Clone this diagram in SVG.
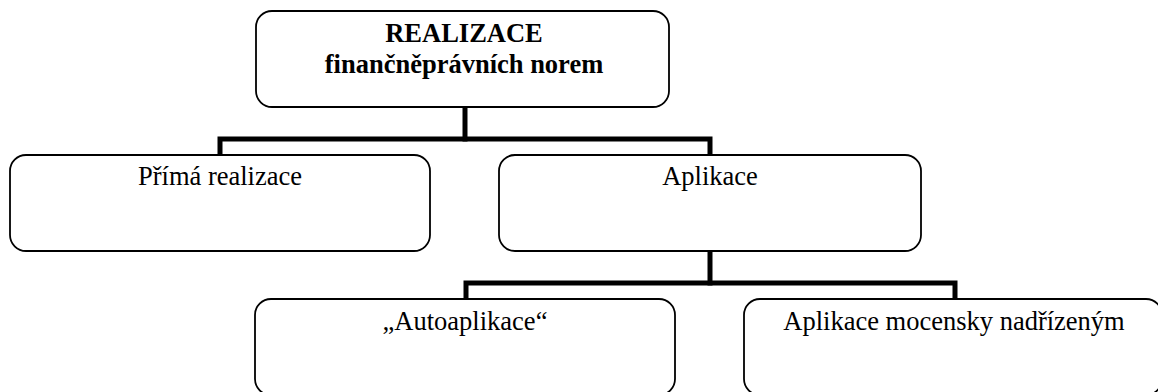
<svg xmlns="http://www.w3.org/2000/svg" width="1158" height="392" viewBox="0 0 1158 392">
  <style>
    .box { fill: #ffffff; stroke: #000000; stroke-width: 1.8; }
    .wire { fill: none; stroke: #000000; stroke-width: 5; stroke-linejoin: miter; stroke-linecap: square; }
    .lbl { font-family: "Liberation Serif", "Times New Roman", serif; font-size: 26.5px; fill: #000000; text-anchor: middle; }
    .bold { font-weight: bold; }
  </style>
  <rect width="1158" height="392" fill="#ffffff"/>

  <!-- connectors -->
  <g id="connectors">
    <polyline class="wire" points="465,107 465,139"/>
    <polyline class="wire" points="220,155 220,139 710,139 710,155"/>
    <polyline class="wire" points="710,251 710,283"/>
    <polyline class="wire" points="466,299 466,283 955,283 955,299"/>
  </g>

  <g id="root">
    <rect class="box" x="256" y="11" width="413" height="96" rx="16"/>
    <text class="lbl bold" x="464" y="42">REALIZACE</text>
    <text class="lbl bold" x="464" y="73">finančněprávních norem</text>
  </g>

  <g id="prima">
    <rect class="box" x="10" y="155" width="420" height="96" rx="16"/>
    <text class="lbl" x="220" y="185">Přímá realizace</text>
  </g>

  <g id="aplikace">
    <rect class="box" x="499" y="155" width="422" height="96" rx="16"/>
    <text class="lbl" x="710" y="185">Aplikace</text>
  </g>

  <g id="autoaplikace">
    <rect class="box" x="255" y="299" width="420" height="96" rx="16"/>
    <text class="lbl" x="465" y="330">„Autoaplikace“</text>
  </g>

  <g id="mocensky">
    <rect class="box" x="744" y="299" width="418" height="96" rx="16"/>
    <text class="lbl" x="954" y="330">Aplikace mocensky nadřízeným</text>
  </g>
</svg>
